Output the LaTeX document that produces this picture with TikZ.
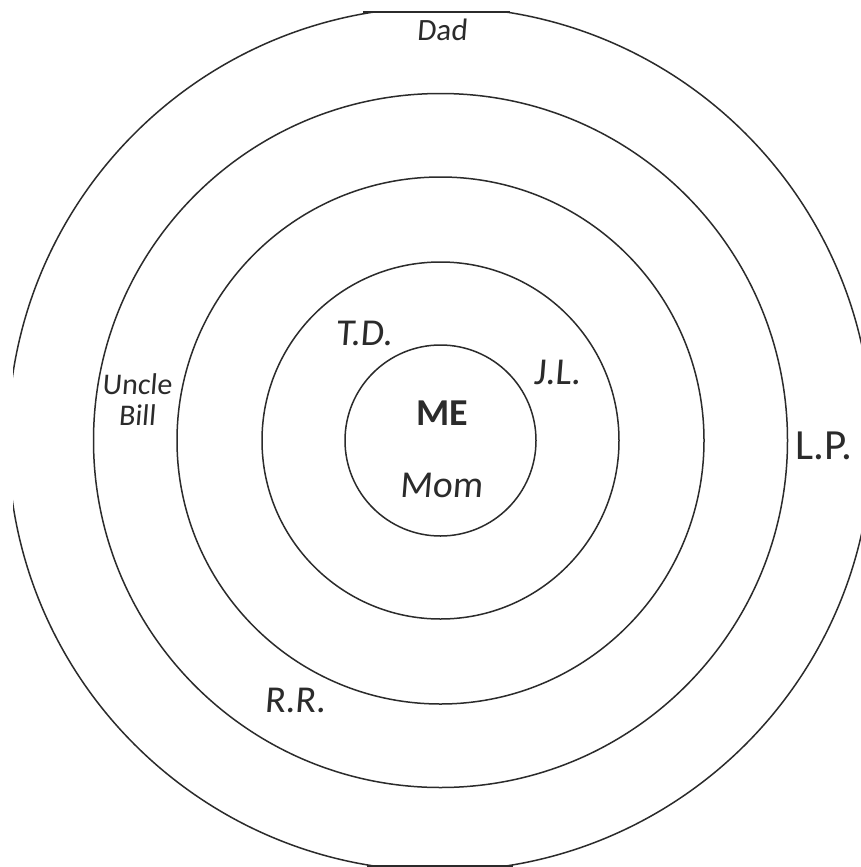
\documentclass[tikz,border=0pt]{standalone}
\usepackage{fontspec}
\setmainfont{Carlito}
\newfontfamily\handfont[FakeSlant=0.08]{Carlito}
\definecolor{ink}{HTML}{2B2B2B}
\begin{document}
\begin{tikzpicture}[x=1pt,y=-1pt,
  ring/.style={draw=ink,line width=1.5pt},
  hand/.style={font=\handfont\fontsize{38}{40}\selectfont,text=ink,inner sep=0pt},
  handsmall/.style={font=\handfont\fontsize{31}{33}\selectfont,text=ink,inner sep=0pt},
  plain/.style={font=\fontsize{43}{45}\selectfont,text=ink,inner sep=0pt}]
\useasboundingbox (0,0) rectangle (861,867);
\fill[white] (0,0) rectangle (861,867);
\coordinate (c) at (440.5,440.5);
% inner rings
\draw[ring] (c) circle[radius=95.5pt];
\draw[ring] (c) circle[radius=178.5pt];
\draw[ring] (c) circle[radius=263.5pt];
\draw[ring] (c) circle[radius=347pt];
% outer ring, trimmed by the sheet edges
\begin{scope}
  \clip (13,12) rectangle (861,866);
  \draw[ring] (440,439) circle[radius=432pt];
\end{scope}
\coordinate (tl) at (363,12);
\coordinate (tr) at (510,12);
\coordinate (bl) at (367,866);
\coordinate (br) at (513,866);
\draw[ring] (tl) -- (tr);
\draw[ring] (bl) -- (br);
% names
\node[handsmall] (dad) at (442,30) {Dad};
\node[handsmall,align=center,font=\handfont\fontsize{30}{31}\selectfont] (bill) at (137,400) {Uncle\\Bill};
\node[hand] (td) at (364,333) {T.D.};
\node[hand] (jl) at (557,372) {J.L.};
\node[plain,font=\bfseries\fontsize{38}{40}\selectfont] (me) at (442,413) {ME};
\node[hand] (mom) at (441,485) {Mom};
\node[plain] (lp) at (824,446) {L.P.};
\node[hand] (rr) at (295,700) {R.R.};
\end{tikzpicture}
\end{document}
